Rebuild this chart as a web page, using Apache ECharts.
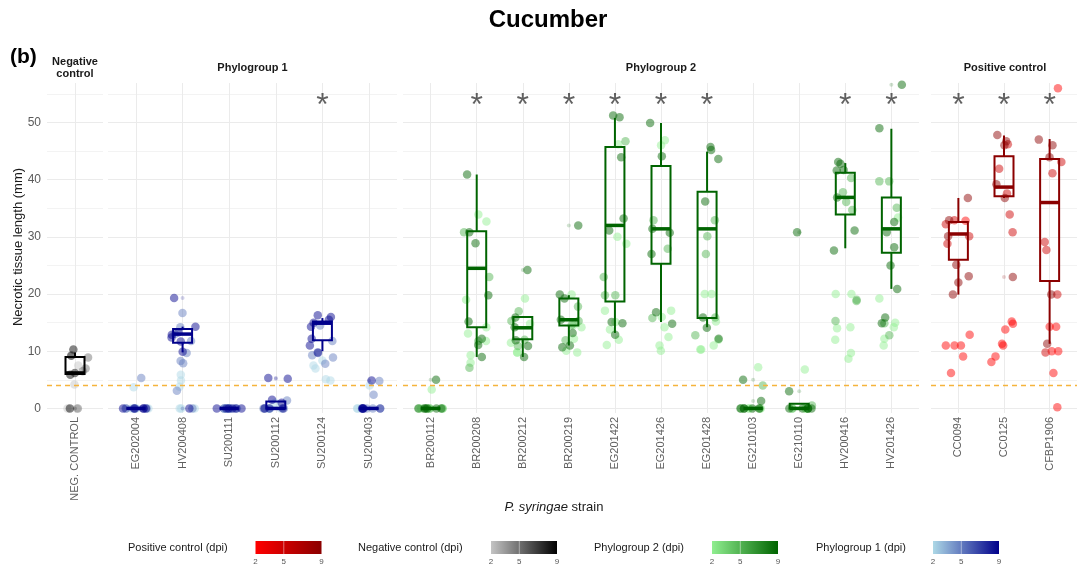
<!DOCTYPE html>
<html>
<head>
<meta charset="utf-8">
<script src="https://cdn.jsdelivr.net/npm/echarts@6/dist/echarts.min.js"></script>
<style>
  html, body { margin: 0; padding: 0; background: #ffffff; }
  #chart { width: 1077px; height: 569px; }
</style>
</head>
<body>
<div id="chart"></div>
<script>
// ---- strains, grouped by facet ----
const negStrains = ['NEG. CONTROL'];
const pg1Strains = ['EG202004', 'HV200408', 'SU200111', 'SU200112', 'SU200124', 'SU200403'];
const pg2Strains = ['BR200112', 'BR200208', 'BR200212', 'BR200219', 'EG201422', 'EG201426',
                    'EG201428', 'EG210103', 'EG210110', 'HV200416', 'HV201426'];
const posStrains = ['CC0094', 'CC0125', 'CFBP1906'];

const yTicks = [0, 10, 20, 30, 40, 50];
const yGridValues = [0, 5, 10, 15, 20, 25, 30, 35, 40, 45, 50, 55];
const dpiTicks = [2, 5, 9];
const detectionThreshold = 4;
const significantStrains = ['SU200124', 'BR200208', 'BR200212', 'BR200219', 'EG201422', 'EG201426',
                            'EG201428', 'HV200416', 'HV201426', 'CC0094', 'CC0125', 'CFBP1906'];

// ---- necrotic tissue length (mm), one list per strain, strain order as above ----
const lesionDpi2 = [
  [9.3, 7.5, 4.2, 0, 0],
  [3.7, 0, 0, 0, 0, 0],
  [5.9, 4.9, 3.8, 0, 0, 0],
  [0, 0, 0, 0, 0, 0],
  [1.0, 0, 0, 0, 0],
  [8.4, 7.5, 7.0, 5.1, 4.9],
  [4.0, 0, 0, 0, 0],
  [3.3, 0, 0, 0, 0],
  [33.9, 32.7, 19.0, 14.2, 13.1, 11.8, 9.3, 8.0],
  [19.2, 14.8, 11.5, 9.8, 9.8],
  [19.9, 14.6, 14.2, 12.2, 10.1, 9.8],
  [46.2, 30.0, 28.8, 17.1, 15.1, 13.8, 12.0, 11.1],
  [46.9, 46.0, 17.1, 16.0, 14.2, 12.5, 11.0, 10.1],
  [20.0, 20.0, 15.2, 12.0, 11.0, 10.3, 10.3],
  [7.2, 0, 0, 0],
  [6.8, 0, 0, 0],
  [20.0, 20.0, 14.2, 14.0, 12.0, 9.7, 8.7],
  [33.4, 19.2, 15.0, 14.2, 12.2, 11.0],
  [32.8, 12.9, 11.0, 11.0, 11.0, 9.1, 6.2],
  [15.2, 14.8, 13.8, 11.3, 11.0, 9.1, 8.1],
  [56.0, 14.3, 14.3, 10.0, 10.0, 6.2, 0.2]
];
const lesionDpi5 = [
  [8.9, 7.0, 6.5, 0],
  [5.3, 0, 0, 0],
  [16.7, 14.2, 13.0, 11.8, 9.7, 8.3, 7.9, 3.1, 0],
  [0, 0, 0, 0, 0],
  [1.4, 0, 0, 0],
  [14.5, 11.8, 9.7, 9.3, 8.9, 7.8],
  [4.8, 2.4, 0, 0],
  [0, 0, 0],
  [30.8, 23.0, 11.8, 7.1],
  [17.0, 15.3, 12.0, 10.9],
  [17.8, 15.3, 14.6, 11.9],
  [46.7, 23.0, 19.8, 19.8],
  [32.9, 27.9, 15.8],
  [32.9, 30.1, 27.0, 15.9, 12.8],
  [4.0, 0, 0],
  [0.5, 0, 0],
  [40.3, 37.8, 36.1, 34.7, 19.0, 18.8, 15.3],
  [39.7, 39.7, 35.1, 14.9, 12.8],
  [32.9, 32.2, 30.1, 28.8],
  [46.2, 41.9, 37.6, 33.9, 30.8],
  [43.1, 41.1, 29.1, 27.7, 19.9, 9.8]
];
const lesionDpi9 = [
  [10.3, 9.2, 6.2, 5.9, 0],
  [0, 0, 0, 0, 0, 0],
  [19.3, 14.3, 13.3, 12.9, 12.4, 11.7, 9.9, 0],
  [0, 0, 0, 0, 0, 0],
  [5.3, 5.2, 1.5, 1.0, 0, 0, 0],
  [16.3, 16.0, 15.5, 15.0, 14.3, 12.2, 11.0, 9.8],
  [4.9, 0, 0, 0, 0, 0],
  [5.0, 0, 0, 0, 0, 0, 0],
  [40.9, 30.8, 28.9, 19.8, 15.2, 12.2, 11.1, 9.0],
  [24.2, 15.9, 14.2, 11.9, 10.9, 9.0],
  [32.0, 19.9, 19.2, 15.5, 13.2, 11.0, 10.7],
  [51.2, 50.9, 43.9, 33.2, 31.1, 15.1, 14.9, 12.9],
  [49.9, 44.1, 31.4, 30.7, 27.0, 16.8, 14.8],
  [45.7, 45.2, 43.6, 36.2, 15.9, 14.1, 12.2],
  [5.0, 1.3, 0, 0, 0, 0, 0],
  [30.8, 3.0, 0, 0, 0, 0, 0],
  [43.1, 42.8, 41.7, 41.6, 36.9, 31.1, 27.6],
  [56.6, 49.0, 32.6, 30.8, 28.2, 25.0, 20.9, 15.9, 14.9],
  [36.8, 32.9, 30.1, 25.1, 23.1, 22.0, 19.9],
  [47.8, 46.7, 46.0, 39.2, 36.8, 23.0],
  [47.0, 46.0, 43.9, 19.9, 11.3]
];

// box summaries: [lower whisker, Q1, median, Q3, upper whisker]
const boxStats = [
  [6.0, 6.0, 6.2, 9.0, 9.8],
  [0, 0, 0, 0, 0],
  [9.8, 11.5, 13.0, 13.9, 14.3],
  [0, 0, 0, 0, 0],
  [0, 0, 0, 1.2, 1.2],
  [10.0, 11.9, 14.9, 15.2, 15.8],
  [0, 0, 0, 0, 0],
  [0, 0, 0, 0, 0],
  [9.0, 14.2, 24.5, 31.0, 40.9],
  [9.0, 12.1, 14.1, 16.0, 16.0],
  [11.0, 14.5, 15.5, 19.2, 19.8],
  [13.2, 18.7, 32.0, 45.7, 50.8],
  [15.1, 25.3, 31.4, 42.4, 49.9],
  [14.2, 15.8, 31.4, 37.9, 44.9],
  [0, 0, 0, 0, 0],
  [0, 0, 0, 0.8, 0.8],
  [28.0, 33.9, 36.9, 41.2, 42.9],
  [20.9, 27.2, 31.4, 36.9, 48.9],
  [19.9, 26.0, 30.5, 32.6, 36.8],
  [36.8, 37.1, 38.7, 44.1, 47.7],
  [11.3, 22.3, 36.0, 43.6, 47.1]
];
const boxOutliers = [
  [0], [], [19.3, 0], [], [5.3, 5.2], [], [4.9],
  [5.0], [], [24.2], [32.0], [], [], [], [5.0, 1.3], [30.8, 3.0], [], [56.6],
  [], [23.0], []
];

// ---- facet layout and colour ramps ----
const FONT = '"Liberation Sans", Arial, Helvetica, sans-serif';
const panels = [
  { label: ['Negative', 'control'], strains: negStrains, left: 47,  width: 56,  ramp: ['#c4c4c4', '#000000'], box: '#000000' },
  { label: ['Phylogroup 1'],        strains: pg1Strains, left: 108, width: 289, ramp: ['#add8e6', '#00008b'], box: '#00008b' },
  { label: ['Phylogroup 2'],        strains: pg2Strains, left: 403, width: 516, ramp: ['#90ee90', '#006400'], box: '#006400' },
  { label: ['Positive control'],    strains: posStrains, left: 931, width: 148, ramp: ['#ff0000', '#8b0000'], box: '#8b0000' }
];
const GRID_TOP = 83, GRID_H = 330, Y_MIN = -0.8, Y_MAX = 56.9;

function hexToRgb(h) {
  return [parseInt(h.slice(1, 3), 16), parseInt(h.slice(3, 5), 16), parseInt(h.slice(5, 7), 16)];
}
function rampColor(ramp, dpi, alpha) {
  const a = hexToRgb(ramp[0]), b = hexToRgb(ramp[1]);
  const t = (dpi - dpiTicks[0]) / (dpiTicks[dpiTicks.length - 1] - dpiTicks[0]);
  const c = a.map((v, i) => Math.round(v + (b[i] - v) * t));
  return 'rgba(' + c.join(',') + ',' + alpha + ')';
}
// deterministic horizontal spread so overlapping points stay visible
function spreader(seed) {
  let s = seed * 2654435761 % 4294967296;
  return function () {
    s = (s * 1664525 + 1013904223) % 4294967296;
    return s / 4294967296;
  };
}

const allStrains = [].concat(negStrains, pg1Strains, pg2Strains, posStrains);

const grids = [], xAxes = [], yAxes = [], series = [], graphics = [];

panels.forEach((p, pi) => {
  const n = p.strains.length;
  const idx = p.strains.map((_, i) => i);
  grids.push({ left: p.left, top: GRID_TOP, width: p.width, height: GRID_H });
  xAxes.push({
    gridIndex: pi, type: 'value', min: -0.6, max: n - 0.4,
    axisLine: { show: false },
    axisTick: { show: false, customValues: idx },
    axisLabel: {
      customValues: idx, rotate: 90, margin: 4, color: '#5f5f5f', fontSize: 11, fontFamily: FONT,
      formatter: v => p.strains[Math.round(v)]
    },
    splitLine: { show: true, lineStyle: { color: '#ebebeb', width: 1 } }
  });
  yAxes.push({
    gridIndex: pi, type: 'value', min: Y_MIN, max: Y_MAX,
    axisLine: { show: false },
    axisTick: { show: false, customValues: yGridValues },
    axisLabel: pi === 0
      ? { customValues: yTicks, color: '#5a5a5a', fontSize: 12, margin: 6, fontFamily: FONT }
      : { show: false },
    splitLine: { show: true, lineStyle: { color: ['#ebebeb', '#f3f3f3'], width: 1 } }
  });

  // jittered observations, coloured by days post inoculation
  const pts = [];
  p.strains.forEach((name, i) => {
    const k = allStrains.indexOf(name);
    const rnd = spreader(k + 7);
    [[2, lesionDpi2[k]], [5, lesionDpi5[k]], [9, lesionDpi9[k]]].forEach(([dpi, vals]) => {
      vals.forEach(v => {
        pts.push({
          value: [i + (rnd() - 0.5) * 0.56, v, dpi],
          itemStyle: { color: rampColor(p.ramp, dpi, 0.6) }
        });
      });
    });
  });
  series.push({
    type: 'scatter', xAxisIndex: pi, yAxisIndex: pi, data: pts, symbolSize: 8.5, z: 2,
    silent: true,
    markLine: {
      silent: true, symbol: 'none', label: { show: false },
      lineStyle: { color: '#f5b43c', type: [5, 4], width: 1.3 },
      data: [{ yAxis: detectionThreshold }]
    }
  });

  // boxplot outliers
  const outl = [];
  p.strains.forEach((name, i) => {
    const k = allStrains.indexOf(name);
    boxOutliers[k].forEach(v => outl.push([i, v]));
  });
  series.push({
    type: 'scatter', xAxisIndex: pi, yAxisIndex: pi, data: outl, symbolSize: 4, z: 2, silent: true,
    itemStyle: { color: p.box, opacity: 0.18 }
  });

  // boxes, whiskers and medians
  const boxes = p.strains.map((name, i) => [i].concat(boxStats[allStrains.indexOf(name)]));
  series.push({
    type: 'custom', xAxisIndex: pi, yAxisIndex: pi, data: boxes, z: 3, silent: true,
    encode: { x: 0, y: [1, 2, 3, 4, 5] },
    renderItem: (params, api) => {
      const x = api.value(0);
      const lo = api.coord([x, api.value(1)]);
      const q1 = api.coord([x, api.value(2)]);
      const md = api.coord([x, api.value(3)]);
      const q3 = api.coord([x, api.value(4)]);
      const hi = api.coord([x, api.value(5)]);
      const half = 9.5;
      const stroke = { stroke: p.box, lineWidth: 2, fill: null };
      return {
        type: 'group',
        children: [
          { type: 'line', shape: { x1: lo[0], y1: lo[1], x2: q1[0], y2: q1[1] }, style: stroke },
          { type: 'line', shape: { x1: q3[0], y1: q3[1], x2: hi[0], y2: hi[1] }, style: stroke },
          { type: 'rect', shape: { x: q1[0] - half, y: q3[1], width: half * 2, height: q1[1] - q3[1] },
            style: { stroke: p.box, lineWidth: 2, fill: 'rgba(0,0,0,0)' } },
          { type: 'line', shape: { x1: md[0] - half, y1: md[1], x2: md[0] + half, y2: md[1] },
            style: { stroke: p.box, lineWidth: 3.5 } }
        ]
      };
    }
  });

  // significance marks
  const stars = [];
  p.strains.forEach((name, i) => { if (significantStrains.indexOf(name) >= 0) stars.push([i, 52.9]); });
  series.push({
    type: 'scatter', xAxisIndex: pi, yAxisIndex: pi, data: stars, symbolSize: 1, z: 4, silent: true,
    itemStyle: { color: 'rgba(0,0,0,0)' },
    label: { show: true, position: 'inside', formatter: '*', color: '#3a3a3a', fontSize: 32, fontFamily: FONT }
  });

  // facet strip label
  const cx = p.left + p.width / 2;
  if (p.label.length === 2) {
    graphics.push({ type: 'text', x: cx, y: 62, style: { text: p.label[0], font: 'bold 11px ' + FONT, fill: '#1a1a1a', align: 'center', verticalAlign: 'middle' } });
    graphics.push({ type: 'text', x: cx, y: 74, style: { text: p.label[1], font: 'bold 11px ' + FONT, fill: '#1a1a1a', align: 'center', verticalAlign: 'middle' } });
  } else {
    graphics.push({ type: 'text', x: Math.min(cx, 1005), y: 68, style: { text: p.label[0], font: 'bold 11px ' + FONT, fill: '#1a1a1a', align: 'center', verticalAlign: 'middle' } });
  }
});

// titles
graphics.push({ type: 'text', x: 548, y: 20, style: { text: 'Cucumber', font: 'bold 24px ' + FONT, fill: '#000', align: 'center', verticalAlign: 'middle' } });
graphics.push({ type: 'text', x: 10, y: 57, style: { text: '(b)', font: 'bold 21px ' + FONT, fill: '#000', align: 'left', verticalAlign: 'middle' } });
graphics.push({ type: 'text', x: 18, y: 247, rotation: Math.PI / 2,
  style: { text: 'Necrotic tissue length (mm)', font: '13px ' + FONT, fill: '#1a1a1a', align: 'center', verticalAlign: 'middle' } });
graphics.push({ type: 'text', x: 554, y: 507,
  style: { text: '{i|P. syringae} strain', font: '13px ' + FONT, fill: '#1a1a1a', align: 'center', verticalAlign: 'middle',
    rich: { i: { fontStyle: 'italic', fontSize: 13, fontFamily: FONT, fill: '#1a1a1a' } } } });

// colour bar legends
const legends = [
  { title: 'Positive control (dpi)', tx: 128, bx: 255.5, ramp: panels[3].ramp },
  { title: 'Negative control (dpi)', tx: 358, bx: 491,   ramp: panels[0].ramp },
  { title: 'Phylogroup 2 (dpi)',     tx: 594, bx: 712,   ramp: panels[2].ramp },
  { title: 'Phylogroup 1 (dpi)',     tx: 816, bx: 933,   ramp: panels[1].ramp }
];
const BAR_W = 66, BAR_H = 13, BAR_Y = 541;
legends.forEach(l => {
  graphics.push({ type: 'text', x: l.tx, y: 548, style: { text: l.title, font: '11px ' + FONT, fill: '#1a1a1a', align: 'left', verticalAlign: 'middle' } });
  graphics.push({ type: 'rect', shape: { x: l.bx, y: BAR_Y, width: BAR_W, height: BAR_H },
    style: { fill: new echarts.graphic.LinearGradient(0, 0, 1, 0, [
      { offset: 0, color: l.ramp[0] }, { offset: 1, color: l.ramp[1] }]) } });
  dpiTicks.forEach(d => {
    const tx = l.bx + (d - dpiTicks[0]) / (dpiTicks[2] - dpiTicks[0]) * BAR_W;
    if (d !== dpiTicks[0] && d !== dpiTicks[2]) {
      graphics.push({ type: 'line', shape: { x1: tx, y1: BAR_Y, x2: tx, y2: BAR_Y + BAR_H },
        style: { stroke: 'rgba(255,255,255,0.45)', lineWidth: 1 } });
    }
    graphics.push({ type: 'text', x: tx, y: 562, style: { text: String(d), font: '8px ' + FONT, fill: '#555', align: 'center', verticalAlign: 'middle' } });
  });
});

const chart = echarts.init(document.getElementById('chart'), null, { renderer: 'canvas' });
chart.setOption({
  animation: false,
  backgroundColor: '#ffffff',
  textStyle: { fontFamily: FONT },
  grid: grids,
  xAxis: xAxes,
  yAxis: yAxes,
  series: series,
  graphic: graphics
});
</script>
</body>
</html>
